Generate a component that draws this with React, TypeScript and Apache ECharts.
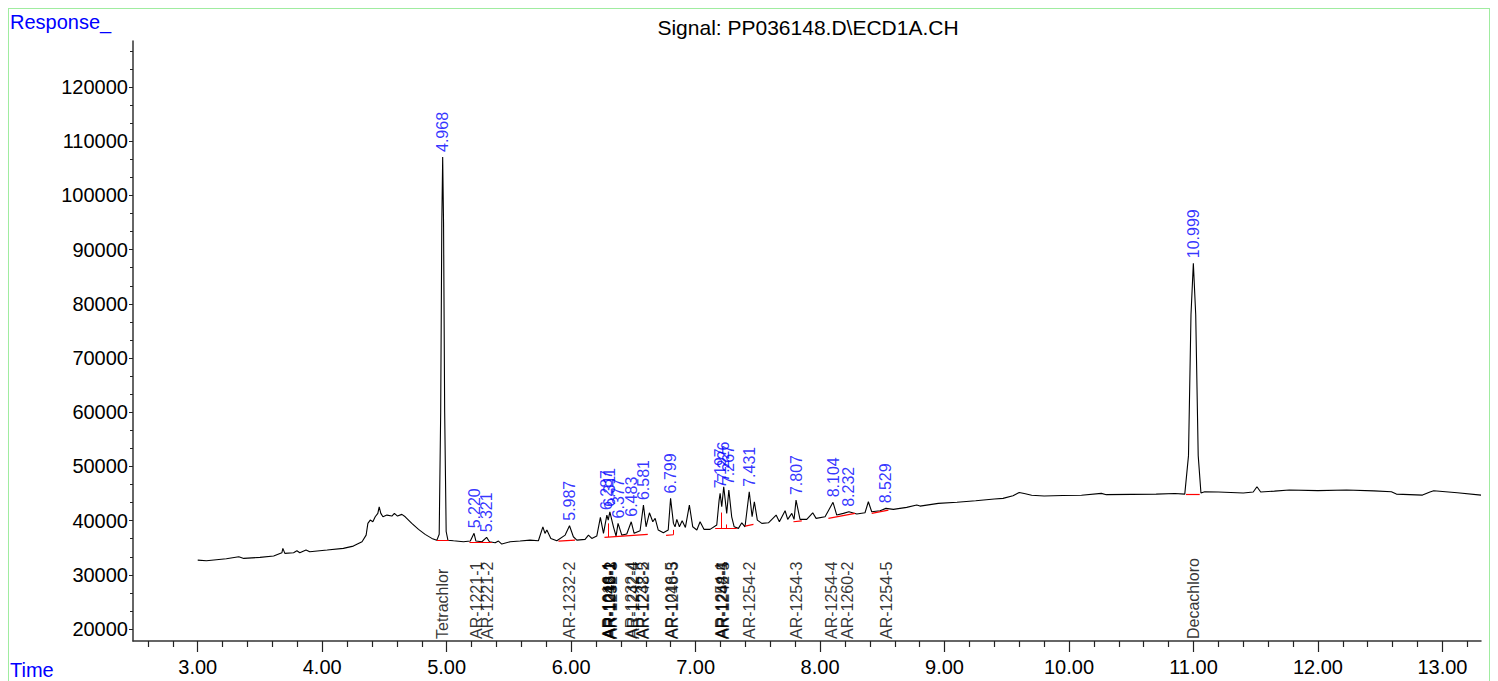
import React, { useEffect, useRef } from "react";
import * as echarts from "echarts";

// ---- chromatogram trace (minutes, response) ----
const traceTime = [
  3.0, 3.07, 3.15, 3.23, 3.33, 3.37, 3.5, 3.61, 3.676, 3.684, 3.7, 3.77, 3.797, 3.82, 3.87, 3.9,
  4.04, 4.17, 4.25, 4.32, 4.353, 4.367, 4.386, 4.407, 4.426, 4.447, 4.458, 4.471, 4.488, 4.52,
  4.56, 4.58, 4.605, 4.64, 4.667, 4.72, 4.774, 4.827, 4.881, 4.921, 4.94, 4.952, 4.961, 4.968,
  4.975, 4.984, 4.996, 5.01, 5.055, 5.135, 5.19, 5.22, 5.235, 5.283, 5.321, 5.344, 5.39, 5.416,
  5.443, 5.51, 5.59, 5.67, 5.737, 5.773, 5.79, 5.805, 5.837, 5.885, 5.952, 5.987, 6.018, 6.046,
  6.112, 6.139, 6.166, 6.206, 6.235, 6.26, 6.287, 6.298, 6.311, 6.34, 6.361, 6.377, 6.407, 6.447,
  6.483, 6.506, 6.554, 6.581, 6.602, 6.629, 6.656, 6.675, 6.7, 6.741, 6.78, 6.799, 6.822, 6.835,
  6.849, 6.87, 6.892, 6.918, 6.95, 6.977, 7.01, 7.036, 7.068, 7.116, 7.17, 7.189, 7.197, 7.21,
  7.226, 7.25, 7.267, 7.29, 7.31, 7.344, 7.371, 7.397, 7.431, 7.454, 7.472, 7.496, 7.532, 7.585,
  7.647, 7.673, 7.719, 7.74, 7.773, 7.791, 7.807, 7.839, 7.893, 7.941, 7.968, 8.04, 8.104, 8.134,
  8.187, 8.232, 8.295, 8.361, 8.388, 8.415, 8.482, 8.529, 8.589, 8.696, 8.777, 8.803, 8.95, 9.1,
  9.25, 9.4, 9.47, 9.55, 9.6, 9.64, 9.7, 9.8, 9.95, 10.1, 10.26, 10.3, 10.5, 10.7, 10.85, 10.93,
  10.96, 10.98, 10.999, 11.018, 11.038, 11.06, 11.09, 11.2, 11.4, 11.48, 11.51, 11.54, 11.65,
  11.77, 12.0, 12.23, 12.45, 12.59, 12.63, 12.84, 12.9, 12.93, 13.12, 13.31,
];
const traceResponse = [
  32730, 32600, 32800, 32970, 33340, 33040, 33230, 33470, 34080, 34890, 33970, 34080, 34450, 34080, 34580, 34260,
  34580, 34890, 35310, 36110, 37340, 39500, 40110, 39800, 40720, 41350, 42560, 41350, 40720, 41030,
  40850, 41350, 40850, 41160, 40720, 39500, 38390, 37470, 36730, 36370, 37500, 60000, 95000, 107100,
  95000, 60000, 38000, 36400, 36290, 36110, 36240, 37660, 36240, 36110, 36920, 36110, 35920, 36240,
  35680, 36110, 36240, 36420, 36290, 38870, 37660, 38270, 36730, 36290, 37340, 39060, 37030, 36420,
  36550, 37340, 36730, 37160, 40610, 37660, 41030, 40110, 41640, 38870, 37160, 39500, 37340, 37530,
  39800, 37660, 38140, 42880, 38870, 41460, 39800, 40420, 38270, 37770, 38270, 44110, 39500, 38870,
  40240, 38870, 39980, 38760, 42880, 38870, 38270, 39800, 38390, 38390, 39190, 43800, 45040, 42560,
  46260, 41350, 45650, 40720, 38870, 38580, 39610, 38870, 45330, 40720, 43490, 40110, 39500, 39610,
  41030, 39800, 41830, 40240, 41350, 40240, 43800, 40240, 40240, 41460, 40420, 40720, 43380, 41030,
  41350, 41640, 41220, 41460, 43490, 41640, 41830, 42270, 42090, 42450, 42880, 42690, 43190, 43400,
  43670, 44000, 44110, 44600, 45200, 45000, 44700, 44540, 44650, 44700, 45040, 44800, 44850, 44900, 45000, 44900,
  52000, 78000, 87500, 78000, 52000, 45100, 45330, 45300, 45100, 45300, 46260, 45300, 45450,
  45650, 45550, 45650, 45500, 45330, 44900, 44720, 45300, 45520, 45150, 44720,
];

// ---- integrated peaks (retention time labels) ----
const peakTimes = [4.968, 5.22, 5.321, 5.987, 6.287, 6.311, 6.377, 6.483, 6.581, 6.799, 7.197, 7.226, 7.267, 7.431, 7.807, 8.104, 8.232, 8.529, 10.999];
const peakHeights = [107100, 37660, 36920, 39060, 41030, 41640, 39500, 39800, 42880, 44110, 45040, 46260, 45650, 45330, 43800, 43380, 41640, 42270, 87500];

// ---- compound names at the bottom ----
const compoundNames = [
  "Tetrachlor", "AR-1221-1", "AR-1221-2", "AR-1232-2",
  "AR-1016-1", "AR-1242-1", "AR-1248-1", "AR-1016-2", "AR-1232-3",
  "AR-1232-4", "AR-1242-4", "AR-1232-5", "AR-1248-2",
  "AR-1016-5", "AR-1248-3",
  "AR-1254-1", "AR-1248-4", "AR-1242-5",
  "AR-1254-2", "AR-1254-3", "AR-1254-4", "AR-1260-2", "AR-1254-5", "Decachloro",
];
const compoundTimes = [
  4.968, 5.236, 5.329, 5.988,
  6.300, 6.305, 6.310, 6.318, 6.325,
  6.483, 6.50, 6.575, 6.585,
  6.805, 6.812,
  7.205, 7.215, 7.222,
  7.431, 7.807, 8.095, 8.222, 8.53, 10.999,
];

// ---- integration baselines (start, end) ----
const baselineStart = [
  [4.921, 36420], [5.183, 36050], [5.898, 36240], [6.268, 36920], [6.763, 37300], [7.157, 38580],
  [7.398, 39000], [7.786, 39800], [8.067, 40420], [8.415, 41350], [10.94, 44900],
];
const baselineEnd = [
  [5.015, 36420], [5.363, 36050], [6.032, 36420], [6.616, 37470], [6.822, 37400], [7.331, 38580],
  [7.465, 39320], [7.853, 39980], [8.281, 41350], [8.549, 41960], [11.05, 44900],
];
const dropStart = [[6.3, 36990], [6.822, 37400], [7.21, 38580], [7.25, 38580]];
const dropEnd = [[6.3, 39500], [6.822, 38300], [7.21, 41500], [7.25, 39300]];

// ---- axes ----
const xTickValues = [3, 4, 5, 6, 7, 8, 9, 10, 11, 12, 13];
const yTickValues = [20000, 30000, 40000, 50000, 60000, 70000, 80000, 90000, 100000, 110000, 120000];
const X_MIN = 2.48;
const X_MAX = 13.31;
const Y_MIN = 17800;
const Y_MAX = 128500;

const FONT = "'Liberation Sans', Arial, sans-serif";
const BLUE = "#0000ff";

export default function App() {
  const ref = useRef<HTMLDivElement>(null);

  useEffect(() => {
    document.documentElement.style.overflow = "hidden";
    const chart = echarts.init(ref.current!, null, { renderer: "svg" });

    const xMinor: number[] = [];
    for (let i = 13; i <= 66; i++) {
      const v = Math.round(i * 20) / 100;
      if (v >= X_MIN && v <= X_MAX && Math.abs(v - Math.round(v)) > 1e-6) xMinor.push(v);
    }
    const yMinor: number[] = [];
    for (let k = 10000; k <= 130000; k += 10000) {
      for (const f of [1 / 3, 2 / 3]) {
        const v = k + f * 10000;
        if (v >= Y_MIN && v <= Y_MAX) yMinor.push(v);
      }
    }

    const trace = traceTime.map((t, i) => [t, traceResponse[i]]);
    const peaks = peakTimes.map((t, i) => ({ value: [t, peakHeights[i]], name: t.toFixed(3) }));
    const compounds = compoundTimes.map((t, i) => ({ value: [t, Y_MIN], name: compoundNames[i] }));
    const baselines = baselineStart.map((s, i) => ({ coords: [s, baselineEnd[i]] }));
    const drops = dropStart.map((s, i) => ({ coords: [s, dropEnd[i]] }));

    const option: any = {
      animation: false,
      grid: { left: 124, top: 32, right: 8, bottom: 40 },
      xAxis: [
        {
          type: "value",
          min: X_MIN,
          max: X_MAX,
          position: "bottom",
          splitLine: { show: false },
          axisLine: { show: true, onZero: false, lineStyle: { color: "#333", width: 1.5 } },
          axisTick: { show: true, customValues: xTickValues, length: 11, lineStyle: { color: "#222", width: 1.2 } },
          axisLabel: {
            show: true,
            customValues: xTickValues,
            formatter: (v: number) => v.toFixed(2),
            color: "#000",
            fontSize: 20,
            fontFamily: FONT,
            margin: 16,
          },
        },
        {
          type: "value",
          min: X_MIN,
          max: X_MAX,
          position: "bottom",
          splitLine: { show: false },
          axisLine: { show: false },
          axisTick: { show: true, customValues: xMinor, length: 6, lineStyle: { color: "#222", width: 1.2 } },
          axisLabel: { show: false },
        },
      ],
      yAxis: [
        {
          type: "value",
          min: Y_MIN,
          max: Y_MAX,
          position: "left",
          splitLine: { show: false },
          axisLine: { show: true, lineStyle: { color: "#333", width: 1.5 } },
          axisTick: { show: true, customValues: yTickValues, length: 4, lineStyle: { color: "#222" } },
          axisLabel: {
            show: true,
            customValues: yTickValues,
            formatter: (v: number) => String(Math.round(v)),
            color: "#000",
            fontSize: 20,
            fontFamily: FONT,
            margin: 5,
          },
        },
        {
          type: "value",
          min: Y_MIN,
          max: Y_MAX,
          position: "left",
          splitLine: { show: false },
          axisLine: { show: false },
          axisTick: { show: true, customValues: yMinor, length: 3, lineStyle: { color: "#222" } },
          axisLabel: { show: false },
        },
      ],
      graphic: [
        {
          type: "text",
          left: 1,
          top: 3,
          style: { text: "Response_", fill: BLUE, fontSize: 20, fontFamily: FONT },
        },
        {
          type: "text",
          left: 1,
          top: 651,
          style: { text: "Time", fill: BLUE, fontSize: 20, fontFamily: FONT },
        },
        {
          type: "text",
          x: 799,
          y: 8,
          style: {
            text: "Signal: PP036148.D\\ECD1A.CH",
            fill: "#000",
            fontSize: 21,
            fontFamily: FONT,
            align: "center",
            verticalAlign: "top",
          },
        },
      ],
      series: [
        {
          type: "line",
          data: trace,
          symbol: "none",
          lineStyle: { color: "#000", width: 1.1 },
          silent: true,
          z: 3,
        },
        {
          type: "lines",
          coordinateSystem: "cartesian2d",
          data: baselines,
          lineStyle: { color: "#ff0000", width: 1.2, opacity: 1 },
          silent: true,
          z: 4,
        },
        {
          type: "lines",
          coordinateSystem: "cartesian2d",
          data: drops,
          lineStyle: { color: "#ff0000", width: 1, opacity: 1 },
          silent: true,
          z: 4,
        },
        {
          type: "scatter",
          data: peaks,
          symbolSize: 0,
          silent: true,
          label: {
            show: true,
            formatter: (p: any) => p.name,
            position: "top",
            distance: 5,
            rotate: 90,
            align: "left",
            verticalAlign: "middle",
            color: BLUE,
            fontSize: 16,
            fontFamily: FONT,
          },
          z: 5,
        },
        {
          type: "scatter",
          data: compounds,
          symbolSize: 0,
          silent: true,
          clip: false,
          label: {
            show: true,
            formatter: (p: any) => p.name,
            position: "top",
            distance: 2,
            rotate: 90,
            align: "left",
            verticalAlign: "middle",
            color: "#000",
            fontSize: 16,
            fontFamily: FONT,
          },
          z: 5,
        },
      ],
    };

    chart.setOption(option);
    return () => chart.dispose();
  }, []);

  return (
    <div
      style={{
        width: 1480,
        height: 672,
        borderTop: "1px solid #a0eca0",
        borderLeft: "1px solid #a0eca0",
        borderRight: "1px solid #a0eca0",
      }}
    >
      <div ref={ref} style={{ width: 1480, height: 672 }} />
    </div>
  );
}
